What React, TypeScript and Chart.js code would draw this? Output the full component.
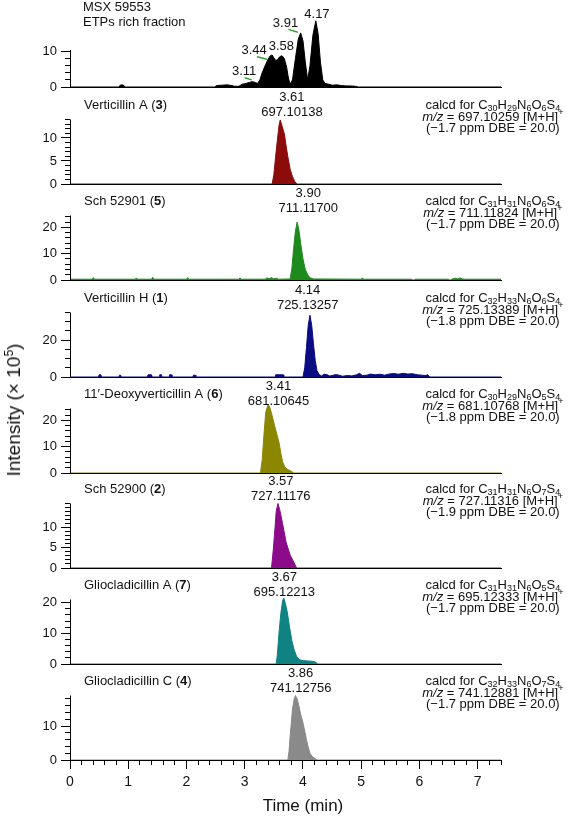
import React, { useEffect, useRef } from 'react';
import { Chart, registerables } from 'chart.js';

Chart.register(...registerables);

const FONT = 'Arial, "Liberation Sans", Helvetica, sans-serif';

// ---------- shared time axis (min) ----------
const timeAxisMin = 0;
const timeAxisMax = 7.4;
const timeMinorTicks = [0, 0.2, 0.4, 0.6, 0.8, 1, 1.2, 1.4, 1.6, 1.8, 2, 2.2, 2.4, 2.6, 2.8, 3, 3.2, 3.4, 3.6, 3.8, 4, 4.2, 4.4, 4.6, 4.8, 5, 5.2, 5.4, 5.6, 5.8, 6, 6.2, 6.4, 6.6, 6.8, 7, 7.2, 7.4];
const timeLabelTicks = [0, 1, 2, 3, 4, 5, 6, 7];

// ---------- MSX 59553, ETPs rich fraction (total) ----------
const msxTime = [
  0, 0.84, 0.86, 0.89, 0.92, 0.94, 2.48, 2.52, 2.6, 2.7,
  2.78, 2.82, 2.9, 2.96, 3.02, 3.08, 3.13, 3.18, 3.22, 3.26,
  3.3, 3.35, 3.4, 3.44, 3.47, 3.5, 3.53, 3.56, 3.6, 3.64,
  3.68, 3.72, 3.75, 3.78, 3.82, 3.87, 3.92, 3.96, 4.0, 4.04,
  4.08, 4.12, 4.17, 4.22, 4.26, 4.3, 4.34, 4.38, 4.44, 4.5,
  4.58, 4.66, 4.74, 4.82, 4.9, 4.95, 7.4,
];
const msxIntensity = [
  0, 0, 0.5, 0.6, 0.5, 0, 0, 0.4, 0.5, 0.6,
  0.4, 0.2, 0.2, 0.8, 1.0, 1.3, 1.5, 1.3, 1.0, 2.0,
  4.0, 6.0, 7.8, 8.8, 9.0, 8.2, 7.5, 7.6, 8.5, 8.8,
  8.0, 5.5, 2.5, 0.8, 2.0, 8.0, 13.5, 15.2, 13.0, 7.0,
  2.0, 6.0, 14.5, 18.6, 15.0, 7.0, 2.0, 1.0, 0.8, 0.5,
  0.6, 0.4, 0.3, 0.3, 0.2, 0, 0,
];
const msxPeakLabels = ['3.11', '3.44', '3.58', '3.91', '4.17'];

// ---------- extracted ion chromatograms ----------
// Verticillin A (3)
const vaTime = [0, 3.47, 3.5, 3.53, 3.56, 3.59, 3.61, 3.64, 3.68, 3.71, 3.74, 3.78, 3.82, 3.86, 3.9, 7.4];
const vaIntensity = [0, 0, 2.0, 5.9, 9.5, 12.8, 13.9, 12.6, 10.9, 8.3, 5.9, 3.2, 1.6, 0.5, 0, 0];

// Sch 52901 (5)
const s901Time = [
  0, 0.38, 0.4, 0.42, 1.12, 1.14, 1.16, 1.4, 1.42, 1.44,
  2.0, 2.02, 2.04, 2.9, 2.92, 2.94, 3.35, 3.38, 3.42, 3.46,
  3.5, 3.54, 3.58,
  3.78, 3.81, 3.84, 3.87, 3.9, 3.93, 3.96, 4.0, 4.04, 4.09, 4.13, 4.18,
  5.0, 5.02, 5.04, 5.87, 5.88, 5.91, 5.92, 6.5, 6.51, 6.54, 6.55, 6.62, 6.66, 6.7, 6.74, 6.78, 7.4,
];
const s901Intensity = [
  0.3, 0.3, 0.9, 0.3, 0.3, 0.8, 0.3, 0.3, 1.0, 0.3,
  0.3, 0.9, 0.3, 0.3, 0.8, 0.3, 0.3, 0.8, 0.5, 0.9,
  0.4, 0.7, 0.3,
  0.4, 4.5, 12, 18.5, 22, 19, 14, 8, 4, 1.6, 0.8, 0.4,
  0.3, 0.8, 0.3, 0.3, 0, 0, 0.3, 0.3, 0, 0, 0.3, 0.7, 0.4, 0.8, 0.4, 0.3, 0.3,
];

// Verticillin H (1)
const vhTime = [
  0, 0.49, 0.5, 0.53, 0.54, 0.84, 0.85, 0.87, 0.88, 1.33,
  1.34, 1.4, 1.41, 1.53, 1.54, 1.57, 1.58, 1.7, 1.71, 1.74,
  1.75, 2.11, 2.12, 2.15, 2.16, 3.52, 3.53, 3.66, 3.67, 4.0,
  4.03, 4.06, 4.09, 4.12, 4.15, 4.18, 4.21, 4.24, 4.28, 4.32,
  4.36, 4.42, 4.46, 4.5, 4.56, 4.62, 4.68, 4.76, 4.84, 4.92,
  4.97, 5.02, 5.1, 5.16, 5.24, 5.32, 5.4, 5.48, 5.56, 5.64,
  5.72, 5.8, 5.88, 5.96, 6.04, 6.1, 6.14, 6.18, 7.4,
];
const vhIntensity = [
  0, 0, 1.2, 1.2, 0, 0, 1.0, 1.0, 0, 0,
  1.2, 1.2, 0, 0, 1.2, 1.2, 0, 0, 1.2, 1.2,
  0, 0, 1.0, 1.0, 0, 0, 1.2, 1.2, 0, 0,
  5, 16, 28, 33.5, 28, 18, 9, 3.5, 1.2, 0.6,
  1.5, 1.2, 0.5, 0.8, 1.3, 1.0, 0.4, 0.8, 0.6, 1.2,
  2.0, 0.8, 1.0, 1.6, 1.2, 1.5, 1.0, 1.6, 1.9, 1.5,
  2.0, 1.6, 1.8, 1.2, 1.0, 0.8, 1.2, 0, 0,
];

// 11'-Deoxyverticillin A (6)
const dvaTime = [0, 3.27, 3.3, 3.33, 3.36, 3.4, 3.43, 3.46, 3.49, 3.52, 3.56, 3.59, 3.62, 3.65, 3.69, 3.74, 3.79, 3.84, 7.4];
const dvaIntensity = [0, 0, 5, 14.5, 23, 26, 25, 22.7, 20, 17.4, 14, 11.5, 7.5, 4.3, 2.2, 1.3, 0.8, 0, 0];

// Sch 52900 (2)
const s900Time = [0, 3.46, 3.49, 3.52, 3.54, 3.57, 3.6, 3.65, 3.71, 3.78, 3.84, 3.89, 7.4];
const s900Intensity = [0, 0, 4.5, 10, 14, 16, 14.5, 11, 6.4, 3.2, 1.5, 0, 0];

// Gliocladicillin A (7)
const glaTime = [0, 3.54, 3.56, 3.59, 3.62, 3.65, 3.67, 3.7, 3.73, 3.77, 3.81, 3.85, 3.89, 3.94, 4.0, 4.08, 4.16, 4.22, 4.25, 7.4];
const glaIntensity = [0, 0, 3, 10.5, 16.5, 20.5, 21.5, 19.5, 17, 12, 7.5, 4.5, 2.5, 1.4, 1.1, 1.0, 0.9, 0.6, 0, 0];

// Gliocladicillin C (4)
const glcTime = [0, 3.74, 3.76, 3.78, 3.8, 3.82, 3.85, 3.87, 3.9, 3.93, 3.96, 4.0, 4.03, 4.06, 4.09, 4.12, 4.16, 4.2, 4.24, 7.4];
const glcIntensity = [0, 0, 2.5, 7, 11, 15, 18, 19, 18, 16, 13.5, 11, 8.5, 6, 3.8, 2, 1, 0.5, 0, 0];

// ---------- annotation text ----------
const compoundNames = ['Verticillin A', 'Sch 52901', 'Verticillin H', '11\u2032-Deoxyverticillin A', 'Sch 52900', 'Gliocladicillin A', 'Gliocladicillin C'];
const compoundNumbers = ['3', '5', '1', '6', '2', '7', '4'];
const retentionTimes = ['3.61', '3.90', '4.14', '3.41', '3.57', '3.67', '3.86'];
const observedMz = ['697.10138', '711.11700', '725.13257', '681.10645', '727.11176', '695.12213', '741.12756'];
const formulas = ['C30H29N6O6S4', 'C31H31N6O6S4', 'C32H33N6O6S4', 'C30H29N6O5S4', 'C31H31N6O7S4', 'C31H31N6O5S4', 'C32H33N6O7S4'];
const calcdMz = ['697.10259', '711.11824', '725.13389', '681.10768', '727.11316', '695.12333', '741.12881'];
const ppmErrors = ['1.7', '1.7', '1.8', '1.8', '1.9', '1.7', '1.7'];

// ---------- layout / style ----------
const W = 573;
const AXIS_LEFT = 70;
const AXIS_RIGHT = 501;
const RIGHT_TEXT_TIME = 7.26;
const TITLE_TIME = 4.0;
const TEXT = '#111';

type Seg = { t: string; b?: boolean; i?: boolean; sub?: boolean; sup?: boolean };

type PanelSpec = {
  idx: number; // -1 = total fraction
  time: number[];
  intensity: number[];
  color: string;
  axisTop: number;
  yMax: number;
  yTicks: number[];
  yLabels: number[];
  axisPx: number;
  canvasTop: number;
  canvasHeight: number;
  baselineInCanvas: number;
  labelTime: number;
  isBottom: boolean;
};

const msxLabelAnchors = [
  { t: 2.99, v: 4.3 }, { t: 3.16, v: 10.2 }, { t: 3.63, v: 11.3 }, { t: 3.70, v: 17.9 }, { t: 4.24, v: 20.5 },
];
const msxLeaders = [
  { t1: 3.0, v1: 2.6, t2: 3.12, v2: 2.0 },
  { t1: 3.21, v1: 8.5, t2: 3.38, v2: 7.8 },
  { t1: 3.75, v1: 16.2, t2: 3.91, v2: 15.4 },
];

function mk(idx: number, time: number[], intensity: number[], color: string, axisTop: number, yTicks: number[], yLabels: number[], baseline: number, labelTime: number, isBottom = false): PanelSpec {
  const baselineInCanvas = 100;
  return {
    idx, time, intensity, color, axisTop, yMax: axisTop * 1.2, yTicks, yLabels, axisPx: 64.5,
    canvasTop: baseline - baselineInCanvas, canvasHeight: isBottom ? 157 : 122, baselineInCanvas, labelTime, isBottom,
  };
}

const range = (a: number, b: number, s: number) => { const r: number[] = []; for (let v = a; v <= b + 1e-9; v += s) r.push(Math.round(v * 100) / 100); return r; };

const panelSpecs: PanelSpec[] = [
  {
    idx: -1, time: msxTime, intensity: msxIntensity, color: '#000000', axisTop: 10.4, yMax: 22,
    yTicks: [0, 2, 4, 6, 8, 10], yLabels: [0, 10], axisPx: 37, canvasTop: -12, canvasHeight: 121, baselineInCanvas: 99, labelTime: 0, isBottom: false,
  },
  mk(0, vaTime, vaIntensity, '#8c0b0b', 14, range(0, 14, 1), [0, 5, 10], 184, 3.81),
  mk(1, s901Time, s901Intensity, '#1d8a1d', 24.5, range(0, 24, 2), [0, 10, 20], 280, 4.09),
  mk(2, vhTime, vhIntensity, '#0b0b82', 35, range(0, 35, 5), [0, 20], 377, 4.08),
  mk(3, dvaTime, dvaIntensity, '#8c8700', 24.5, range(0, 24, 2), [0, 10, 20], 473, 3.58),
  mk(4, s900Time, s900Intensity, '#8b0b8b', 16, range(0, 16, 1), [0, 5, 10], 568, 3.62),
  mk(5, glaTime, glaIntensity, '#0f8282', 21, range(0, 20, 2), [0, 10, 20], 664, 3.68),
  mk(6, glcTime, glcIntensity, '#8a8a8a', 19, range(0, 18, 2), [0, 10], 760, 3.96, true),
];

function segFont(s: Seg, size: number) {
  const sz = s.sub || s.sup ? Math.round(size * 0.7) : size;
  return `${s.i ? 'italic ' : ''}${s.b ? 'bold ' : ''}${sz}px ${FONT}`;
}

function drawRich(ctx: CanvasRenderingContext2D, segs: Seg[], x: number, y: number, align: 'left' | 'center', size: number) {
  ctx.fillStyle = TEXT;
  ctx.textBaseline = 'middle';
  ctx.textAlign = 'left';
  const widths = segs.map((s) => { ctx.font = segFont(s, size); return ctx.measureText(s.t).width; });
  const total = widths.reduce((a, b) => a + b, 0);
  let cx = align === 'center' ? x - total / 2 : x;
  segs.forEach((s, k) => {
    ctx.font = segFont(s, size);
    const dy = s.sub ? size * 0.3 : s.sup ? -size * 0.35 : 0;
    ctx.fillText(s.t, cx, y + dy);
    cx += widths[k];
  });
}

function formulaSegs(f: string): Seg[] {
  return (f.match(/[A-Z][a-z]?|\d+/g) || []).map((p) => (/\d/.test(p) ? { t: p, sub: true } : { t: p }));
}

const alignPx = (p: number) => Math.round(p - 0.5) + 0.5;

function makeAnnotationPlugin(spec: PanelSpec) {
  return {
    id: 'panelAnnotations',
    afterDraw(chart: any) {
      const { ctx, chartArea: ca, scales } = chart;
      const xs = scales.x;
      const ys = scales.y;
      const y0 = ys.getPixelForValue(0);
      ctx.save();
      // y axis line limited to its tick range
      ctx.strokeStyle = '#000';
      ctx.lineWidth = 1;
      ctx.beginPath();
      ctx.moveTo(ca.left + 0.5, alignPx(y0) + 0.5);
      ctx.lineTo(ca.left + 0.5, ys.getPixelForValue(spec.axisTop));
      // longer marks on labelled ticks
      for (const v of spec.yLabels) {
        const py = alignPx(ys.getPixelForValue(v));
        ctx.moveTo(ca.left - 9, py);
        ctx.lineTo(ca.left - 4, py);
      }
      if (spec.isBottom) {
        for (const t of timeLabelTicks) {
          const px = alignPx(xs.getPixelForValue(t));
          ctx.moveTo(px, y0 + 4);
          ctx.lineTo(px, y0 + 9);
        }
      }
      ctx.stroke();

      const size = 13;
      if (spec.idx < 0) {
        drawRich(ctx, [{ t: 'MSX 59553' }], ca.left + 13, y0 - 80, 'left', size);
        drawRich(ctx, [{ t: 'ETPs rich fraction' }], ca.left + 13, y0 - 64.5, 'left', size);
        msxPeakLabels.forEach((lab, k) => {
          const a = msxLabelAnchors[k];
          drawRich(ctx, [{ t: lab }], xs.getPixelForValue(a.t), ys.getPixelForValue(a.v), 'center', size);
        });
        ctx.strokeStyle = '#2ea32e';
        ctx.lineWidth = 1.5;
        ctx.beginPath();
        for (const l of msxLeaders) {
          ctx.moveTo(xs.getPixelForValue(l.t1), ys.getPixelForValue(l.v1));
          ctx.lineTo(xs.getPixelForValue(l.t2), ys.getPixelForValue(l.v2));
        }
        ctx.stroke();
      } else {
        const i = spec.idx;
        drawRich(ctx, [{ t: compoundNames[i] + ' (' }, { t: compoundNumbers[i], b: true }, { t: ')' }], ca.left + 14, y0 - 79, 'left', size);
        const lx = xs.getPixelForValue(spec.labelTime);
        drawRich(ctx, [{ t: retentionTimes[i] }], lx, y0 - 87, 'center', size);
        drawRich(ctx, [{ t: observedMz[i] }], lx, y0 - 72, 'center', size);
        const rx = xs.getPixelForValue(RIGHT_TEXT_TIME);
        drawRich(ctx, [{ t: 'calcd for ' }, ...formulaSegs(formulas[i])], rx, y0 - 79, 'center', size);
        drawRich(ctx, [{ t: 'm/z', i: true }, { t: ` = ${calcdMz[i]} [M+H]` }, { t: '+', sup: true }], rx, y0 - 67, 'center', size);
        drawRich(ctx, [{ t: `(\u2212${ppmErrors[i]} ppm DBE = 20.0)` }], rx, y0 - 55.5, 'center', size);
      }
      if (spec.isBottom) {
        drawRich(ctx, [{ t: 'Time (min)' }], xs.getPixelForValue(TITLE_TIME), y0 + 46, 'center', 17);
      }
      ctx.restore();
    },
  };
}

function buildConfig(spec: PanelSpec): any {
  const chartH = (spec.yMax * spec.axisPx) / spec.axisTop;
  const padTop = spec.baselineInCanvas - chartH;
  const xAxisH = spec.canvasHeight - spec.baselineInCanvas;
  return {
    type: 'line',
    data: {
      datasets: [
        {
          data: spec.time.map((t, k) => ({ x: t, y: spec.intensity[k] })),
          borderColor: spec.color,
          backgroundColor: spec.color,
          borderWidth: 1,
          fill: 'origin',
          pointRadius: 0,
          pointHoverRadius: 0,
          tension: 0,
        },
      ],
    },
    options: {
      animation: false,
      responsive: false,
      maintainAspectRatio: false,
      events: [],
      layout: { padding: { top: padTop, right: W - AXIS_RIGHT, left: 0, bottom: 0 } },
      plugins: { legend: { display: false }, tooltip: { enabled: false }, title: { display: false } },
      scales: {
        x: {
          type: 'linear',
          min: timeAxisMin,
          max: timeAxisMax,
          afterBuildTicks: (s: any) => { s.ticks = timeMinorTicks.map((v) => ({ value: v })); },
          afterFit: (s: any) => { s.height = xAxisH; },
          grid: { display: spec.isBottom, drawOnChartArea: false, drawTicks: true, tickLength: 5, color: '#000', lineWidth: 1 },
          border: { display: true, color: '#000', width: 1, z: 1 },
          ticks: {
            display: spec.isBottom,
            autoSkip: false,
            maxRotation: 0,
            minRotation: 0,
            padding: 9,
            color: TEXT,
            font: { family: FONT, size: 14 },
            callback: (v: number) => (timeLabelTicks.includes(v) ? String(v) : ''),
          },
        },
        y: {
          type: 'linear',
          min: 0,
          max: spec.yMax,
          afterBuildTicks: (s: any) => { s.ticks = spec.yTicks.map((v) => ({ value: v })); },
          afterFit: (s: any) => { s.width = AXIS_LEFT; },
          grid: { display: true, drawOnChartArea: false, drawTicks: true, tickLength: 5, color: '#000', lineWidth: 1 },
          border: { display: false },
          ticks: {
            autoSkip: false,
            padding: 8,
            color: TEXT,
            font: { family: FONT, size: 13 },
            callback: (v: number) => (spec.yLabels.includes(v) ? String(v) : ''),
          },
        },
      },
    },
    plugins: [makeAnnotationPlugin(spec)],
  };
}

function PanelChart({ spec }: { spec: PanelSpec }) {
  const ref = useRef<HTMLCanvasElement | null>(null);
  useEffect(() => {
    const canvas = ref.current;
    if (!canvas) return;
    const chart = new Chart(canvas, buildConfig(spec));
    return () => chart.destroy();
  }, [spec]);
  return (
    <canvas
      ref={ref}
      width={W}
      height={spec.canvasHeight}
      style={{ position: 'absolute', left: 0, top: spec.canvasTop, width: W, height: spec.canvasHeight }}
    />
  );
}

export default function App() {
  return (
    <div style={{ position: 'absolute', left: 0, top: 0, width: W, height: 817, overflow: 'hidden', background: '#fff', fontFamily: FONT }}>
      {panelSpecs.map((s, k) => (
        <PanelChart key={k} spec={s} />
      ))}
      <div
        style={{
          position: 'absolute',
          left: 14,
          top: 410,
          transform: 'translate(-50%, -50%) rotate(-90deg)',
          fontSize: 19,
          lineHeight: '20px',
          whiteSpace: 'nowrap',
          color: TEXT,
        }}
      >
        Intensity (× 10<sup style={{ fontSize: 12, lineHeight: 0 }}>5</sup>)
      </div>
    </div>
  );
}
